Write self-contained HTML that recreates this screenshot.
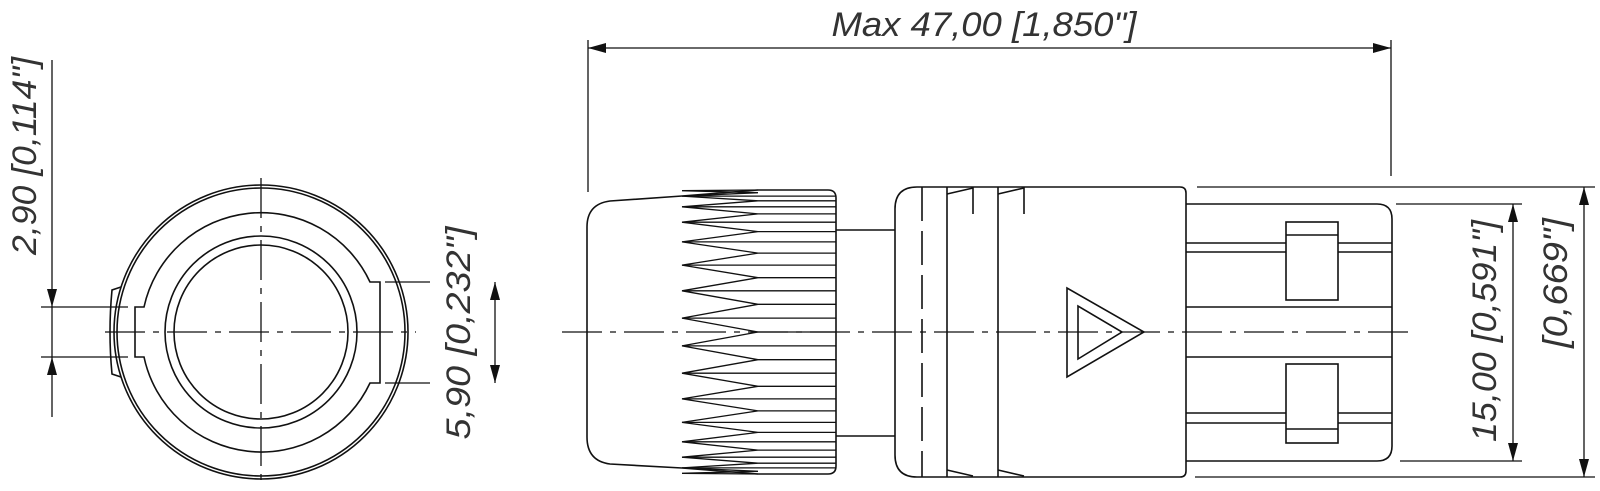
<!DOCTYPE html>
<html><head><meta charset="utf-8"><style>
html,body{margin:0;padding:0;background:#fff;width:1600px;height:491px;overflow:hidden}
svg{display:block}
text{font-family:"Liberation Sans",sans-serif;font-style:italic;fill:#333}
</style></head><body>
<svg width="1600" height="491" viewBox="0 0 1600 491" xmlns="http://www.w3.org/2000/svg">
<g fill="none" stroke="#111" stroke-width="1.6">
<!-- LEFT VIEW -->
<circle cx="261" cy="332" r="147"/>
<circle cx="261" cy="332" r="144"/>
<path d="M370,282 A120,120 0 0 0 144,307 L135,307 L135,357 L144,357 A120,120 0 0 0 370,383 L380,383 L380,282 Z"/>
<circle cx="261" cy="332" r="96"/>
<circle cx="261" cy="332" r="87"/>
<path d="M121,287 L112,290 Q108,332 112,374 L121,377"/>
<line x1="261" y1="178" x2="261" y2="486" stroke-dasharray="40,8,6,8" stroke-width="1.3"/>
<line x1="105" y1="332" x2="416" y2="332" stroke-dasharray="40,8,6,8" stroke-width="1.3"/>
<!-- left dims -->
<line x1="52" y1="60" x2="52" y2="417" stroke-width="1.3"/>
<line x1="41" y1="307" x2="128" y2="307" stroke-width="1.3"/>
<line x1="41" y1="357" x2="128" y2="357" stroke-width="1.3"/>
<line x1="385" y1="282" x2="430" y2="282" stroke-width="1.3"/>
<line x1="385" y1="383" x2="430" y2="383" stroke-width="1.3"/>
<line x1="495" y1="282" x2="495" y2="383" stroke-width="1.3"/>
<!-- top dim -->
<line x1="588" y1="40" x2="588" y2="192" stroke-width="1.3"/>
<line x1="1391" y1="40" x2="1391" y2="176" stroke-width="1.3"/>
<line x1="588" y1="48" x2="1391" y2="48" stroke-width="1.3"/>
<!-- CAP -->
<path d="M758,190 L828,190 Q836,190 836,198 L836,466 Q836,474 828,474 L758,474"/>
<path d="M758,190 L682,196 L610,201 Q587,204 587,227 L587,437 Q587,461 610,464 L682,468 L758,474"/>
<polyline stroke-width="1.3" points="758,190 682,190.7 758,192.7 682,196.1 758,200.8 682,206.8 758,213.9 682,222.2 758,231.6 682,241.9 758,253.1 682,265.1 758,277.7 682,290.8 758,304.3 682,318.1 758,332 682,345.9 758,359.7 682,373.2 758,386.3 682,398.9 758,410.9 682,422.4 758,432.4 682,441.8 758,450.1 682,457.2 758,463.2 682,467.9 758,471.3 682,473.3 758,474"/>
<g stroke-width="1.3">
<line x1="682" y1="196.1" x2="836" y2="196.1"/><line x1="758" y1="200.8" x2="836" y2="200.8"/>
<line x1="682" y1="206.8" x2="836" y2="206.8"/><line x1="758" y1="213.9" x2="836" y2="213.9"/>
<line x1="682" y1="222.2" x2="836" y2="222.2"/><line x1="758" y1="231.6" x2="836" y2="231.6"/>
<line x1="682" y1="241.9" x2="836" y2="241.9"/><line x1="758" y1="253.1" x2="836" y2="253.1"/>
<line x1="682" y1="265.1" x2="836" y2="265.1"/><line x1="758" y1="277.7" x2="836" y2="277.7"/>
<line x1="682" y1="290.8" x2="836" y2="290.8"/><line x1="758" y1="304.3" x2="836" y2="304.3"/>
<line x1="682" y1="318.1" x2="836" y2="318.1"/><line x1="758" y1="332" x2="836" y2="332"/>
<line x1="682" y1="345.9" x2="836" y2="345.9"/><line x1="758" y1="359.7" x2="836" y2="359.7"/>
<line x1="682" y1="373.2" x2="836" y2="373.2"/><line x1="758" y1="386.3" x2="836" y2="386.3"/>
<line x1="682" y1="398.9" x2="836" y2="398.9"/><line x1="758" y1="410.9" x2="836" y2="410.9"/>
<line x1="682" y1="422.4" x2="836" y2="422.4"/><line x1="758" y1="432.4" x2="836" y2="432.4"/>
<line x1="682" y1="441.8" x2="836" y2="441.8"/><line x1="758" y1="450.1" x2="836" y2="450.1"/>
<line x1="682" y1="457.2" x2="836" y2="457.2"/><line x1="758" y1="463.2" x2="836" y2="463.2"/>
<line x1="682" y1="467.9" x2="836" y2="467.9"/>
</g>
<!-- neck -->
<line x1="836" y1="230" x2="895" y2="230"/>
<line x1="836" y1="436" x2="895" y2="436"/>
<!-- BODY -->
<path d="M1180,187 Q1186,187 1186,193 L1186,471 Q1186,477 1180,477 L917,477 Q895,477 895,455 L895,209 Q895,187 917,187 Z"/>
<line x1="922" y1="187" x2="922" y2="477" stroke-dasharray="34,10"/>
<line x1="947" y1="187" x2="947" y2="477"/>
<line x1="998" y1="187" x2="998" y2="477"/>
<path d="M947,194 L973,188 M973,187 L973,214 M998,194 L1024,188 M1024,187 L1024,214 M947,470 L973,476 M998,470 L1024,476"/>
<polygon points="1067,288 1067,377 1144,332"/>
<polygon points="1078,306 1078,359 1122,332"/>
<!-- REAR -->
<path d="M1186,204 L1377,204 Q1392,204 1392,219 L1392,446 Q1392,461 1377,461 L1186,461"/>
<g stroke-width="1.4">
<line x1="1186" y1="243" x2="1392" y2="243"/><line x1="1186" y1="252" x2="1392" y2="252"/>
<line x1="1186" y1="307" x2="1392" y2="307"/><line x1="1186" y1="357" x2="1392" y2="357"/>
<line x1="1186" y1="413" x2="1392" y2="413"/><line x1="1186" y1="423" x2="1392" y2="423"/>
</g>
<rect x="1286" y="222" width="52" height="78" fill="#fff"/>
<line x1="1286" y1="235" x2="1338" y2="235"/>
<rect x="1286" y="364" width="52" height="79" fill="#fff"/>
<line x1="1286" y1="429" x2="1338" y2="429"/>
<!-- center line side -->
<line x1="562" y1="332" x2="1413" y2="332" stroke-dasharray="40,8,6,8" stroke-width="1.3"/>
<!-- right dims -->
<g stroke-width="1.3">
<line x1="1197" y1="187" x2="1595" y2="187"/>
<line x1="1195" y1="477" x2="1595" y2="477"/>
<line x1="1396" y1="204" x2="1522" y2="204"/>
<line x1="1400" y1="461" x2="1522" y2="461"/>
<line x1="1513" y1="204" x2="1513" y2="461"/>
<line x1="1584" y1="187" x2="1584" y2="477"/>
</g>
</g>
<!-- arrowheads -->
<g fill="#111" stroke="none">
<polygon points="52,307 47,289 57,289"/>
<polygon points="52,357 47,375 57,375"/>
<polygon points="495,282 490,300 500,300"/>
<polygon points="495,383 490,365 500,365"/>
<polygon points="588,48 606,43 606,53"/>
<polygon points="1391,48 1373,43 1373,53"/>
<polygon points="1513,204 1508,222 1518,222"/>
<polygon points="1513,461 1508,443 1518,443"/>
<polygon points="1584,187 1579,205 1589,205"/>
<polygon points="1584,477 1579,459 1589,459"/>
</g>
<!-- text -->
<text x="984" y="36" font-size="34" text-anchor="middle" textLength="305" lengthAdjust="spacingAndGlyphs">Max 47,00 [1,850"]</text>
<text transform="translate(36,156) rotate(-90)" font-size="34" text-anchor="middle" textLength="198" lengthAdjust="spacingAndGlyphs">2,90 [0,114"]</text>
<text transform="translate(470,333) rotate(-90)" font-size="34" text-anchor="middle" textLength="213" lengthAdjust="spacingAndGlyphs">5,90 [0,232"]</text>
<text transform="translate(1496,331) rotate(-90)" font-size="34" text-anchor="middle" textLength="222" lengthAdjust="spacingAndGlyphs">15,00 [0,591"]</text>
<text transform="translate(1567,283) rotate(-90)" font-size="34" text-anchor="middle" textLength="130" lengthAdjust="spacingAndGlyphs">[0,669"]</text>
</svg>
</body></html>
